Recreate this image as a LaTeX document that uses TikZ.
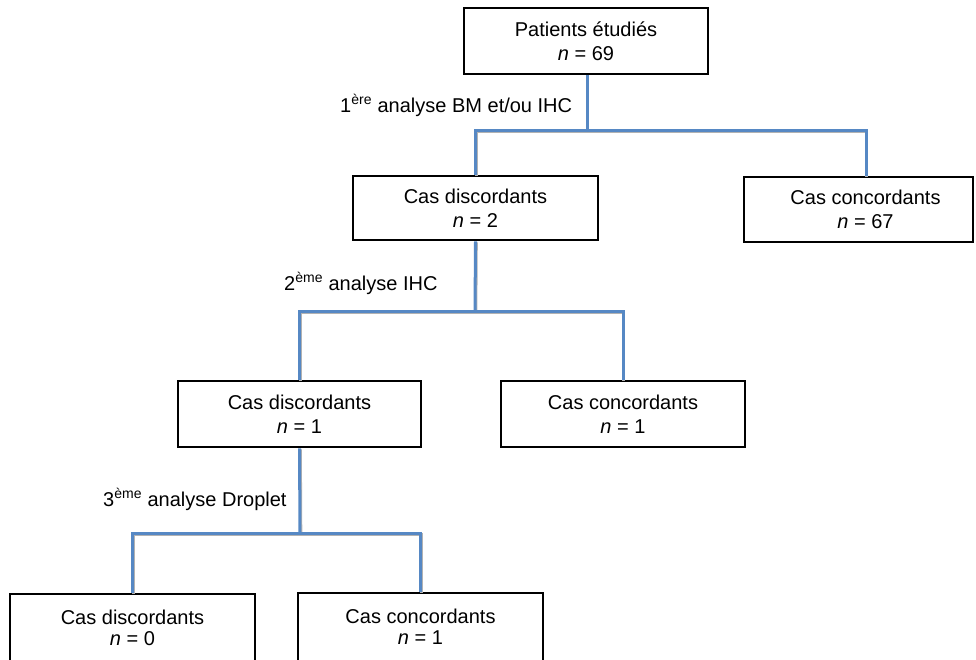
\documentclass[tikz,border=0pt]{standalone}
\usepackage{fontspec}
\setmainfont{Liberation Sans}
\definecolor{linkblue}{RGB}{86,136,196}
\begin{document}
\begin{tikzpicture}[x=1pt,y=-1pt,
  box/.style={draw=black, line width=2.6pt, fill=white, inner sep=0pt, align=center,
    font=\fontsize{20}{24}\selectfont},
  link/.style={draw=linkblue, line width=3pt,
    preaction={draw=black!30, line width=3pt, transform canvas={shift={(0.8pt,-1pt)}}}},
  lab/.style={anchor=base west, inner sep=0pt, font=\fontsize{20}{24}\selectfont}]
\useasboundingbox (0,0) rectangle (976,659);
% connectors (drawn first, boxes over them)
\coordinate (j1) at (587,130);
\coordinate (j2) at (475,311);
\coordinate (j3) at (300,533);
% boxes
\node[box, minimum width=244pt, minimum height=66pt] (top) at (586,41) {Patients étudiés\\\textit{n} = 69};
\node[box, minimum width=245pt, minimum height=64pt] (A) at (475.5,208) {Cas discordants\\\textit{n} = 2};
\node[box, minimum width=229pt, minimum height=65pt] (B) at (858.5,209.5) {\hspace*{14pt}Cas concordants\\\hspace*{14pt}\textit{n} = 67};
\node[box, minimum width=243pt, minimum height=66pt] (C) at (299.5,414) {Cas discordants\\\textit{n} = 1};
\node[box, minimum width=244pt, minimum height=66pt] (D) at (623,414) {Cas concordants\\\textit{n} = 1};
\node[box, minimum width=245pt, minimum height=72pt] (E) at (132.5,630) {\raisebox{6pt}{\begin{tabular}{@{}c@{}}Cas discordants\\[-3pt]\textit{n} = 0\end{tabular}}};
\node[box, minimum width=245pt, minimum height=72pt] (F) at (420.5,629) {\raisebox{6pt}{\begin{tabular}{@{}c@{}}Cas concordants\\[-3pt]\textit{n} = 1\end{tabular}}};
% connectors
\begin{scope}[on background layer/.style={}]
\end{scope}
\draw[link] (top.south -| j1) -- (j1);
\draw[link] (j1) -- (j1 -| A.north) -- (A.north);
\draw[link] (j1) -- (866,130) -- (B.north -| 866,0);
\draw[link] (A.south) -- (j2);
\draw[link] (j2) -| (C.north);
\draw[link] (j2) -| (D.north);
\draw[link] (C.south) -- (j3);
\draw[link] (j3) -| (E.north);
\draw[link] (j3) -| (F.north);
% labels
\node[lab] (l1) at (340,112) {1\textsuperscript{ère} analyse BM et/ou IHC};
\node[lab] (l2) at (284,290) {2\textsuperscript{ème} analyse IHC};
\node[lab] (l3) at (103,506) {3\textsuperscript{ème} analyse Droplet};
\end{tikzpicture}
\end{document}
